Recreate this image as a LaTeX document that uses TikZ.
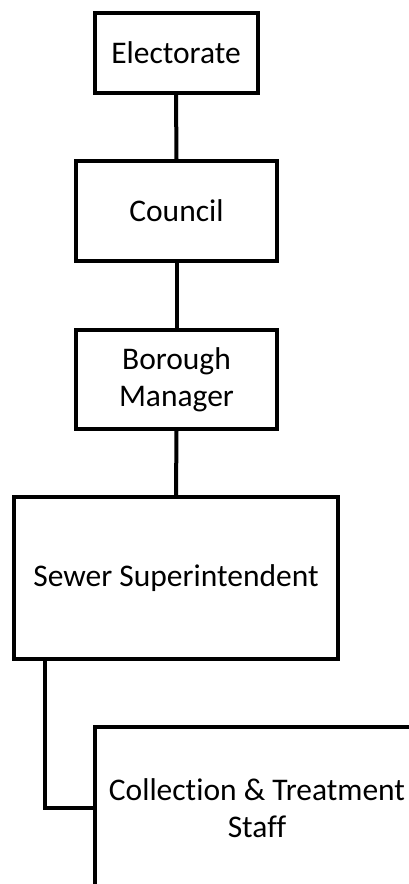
\documentclass[tikz,border=0pt]{standalone}
\usepackage{fontspec}
\setmainfont{Carlito}[Ligatures=NoCommon]
\begin{document}
\begin{tikzpicture}[x=1pt,y=-1pt,
  orgbox/.style={draw=black, line width=4pt, fill=white, inner sep=0pt,
    align=center, font=\fontsize{31.5}{36.6}\selectfont},
  link/.style={draw=black, line width=4pt}]
  \useasboundingbox (0,0) rectangle (409,884);
  \clip (0,0) rectangle (409,884);

  % boxes of the chain of command
  \node[orgbox, minimum width=163pt, minimum height=80pt]  (elect)   at (176,53)    {Electorate};
  \node[orgbox, minimum width=201pt, minimum height=100pt] (council) at (176.5,211) {Council};
  \node[orgbox, minimum width=201pt, minimum height=99pt]  (borough) at (176.5,379.5) {Borough\\Manager};
  \node[orgbox, minimum width=324pt, minimum height=162pt] (sewer)   at (176,578)   {Sewer Superintendent};
  \node[orgbox, minimum width=324pt, minimum height=162pt] (staff)   at (257,808)   {Collection \& Treatment\\Staff};

  % vertical links
  \draw[link] (elect.south) -- (council.north);
  \draw[link] (council.south) -- (borough.north);
  \draw[link] (borough.south) -- (sewer.north);

  % elbow from the superintendent down to the staff
  \coordinate (drop) at ([xshift=33pt]sewer.south west);
  \draw[link] (drop) |- (staff.west);
\end{tikzpicture}
\end{document}
